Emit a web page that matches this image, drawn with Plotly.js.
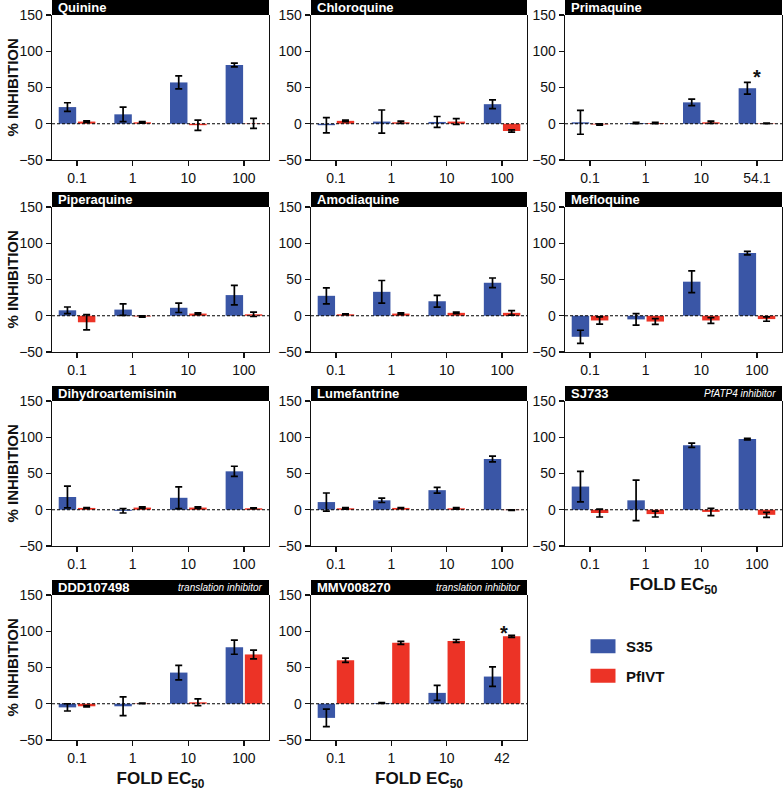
<!DOCTYPE html>
<html><head><meta charset="utf-8">
<script src="https://cdn.plot.ly/plotly-3.0.1.min.js"></script>
<style>html,body{margin:0;padding:0;background:#fff}</style>
</head><body><div id="chart" style="width:784px;height:792px"></div>
<script>
// ---------- data ----------
const doseLabels = ['0.1', '1', '10', '100'];
const primaquineDoses = ['0.1', '1', '10', '54.1'];
const mmvDoses = ['0.1', '1', '10', '42'];
const seriesNames = ['S35', 'PfIVT'];

const compoundNames = ['Quinine', 'Chloroquine', 'Primaquine', 'Piperaquine', 'Amodiaquine', 'Mefloquine',
  'Dihydroartemisinin', 'Lumefantrine', 'SJ733', 'DDD107498', 'MMV008270'];
const compoundNotes = ['', '', '', '', '', '', '', '', 'PfATP4 inhibitor', 'translation inhibitor', 'translation inhibitor'];

const quinineS35 = [23, 13, 57, 81];            const quinineS35Err = [6, 10, 9, 2.5];
const quininePfIVT = [3, 2, -2, 0.5];           const quininePfIVTErr = [1, 1, 7, 7];
const chloroquineS35 = [-2, 3, 2.5, 27];        const chloroquineS35Err = [10.5, 16, 7.5, 6];
const chloroquinePfIVT = [4, 2, 3, -10];        const chloroquinePfIVTErr = [1, 1.5, 4, 1.5];
const primaquineS35 = [2, 1, 29.5, 49];         const primaquineS35Err = [16.5, 1, 4.5, 8];
const primaquinePfIVT = [-1, 1, 2, 0.5];        const primaquinePfIVTErr = [1, 1, 1.5, 0.5];
const piperaquineS35 = [7.5, 8.5, 11, 28.5];    const piperaquineS35Err = [4.6, 8, 6.5, 13.4];
const piperaquinePfIVT = [-9, -1, 3, 2];        const piperaquinePfIVTErr = [10.6, 1, 1, 3];
const amodiaquineS35 = [27.5, 33, 20, 45.5];    const amodiaquineS35Err = [11, 15.6, 8, 6.6];
const amodiaquinePfIVT = [2, 3, 4, 4];          const amodiaquinePfIVTErr = [0.5, 1, 1, 3];
const mefloquineS35 = [-29, -5, 47, 86.4];      const mefloquineS35Err = [9, 8, 15, 2.5];
const mefloquinePfIVT = [-6.5, -8, -6.5, -4.6]; const mefloquinePfIVTErr = [5, 4, 4, 3];
const dhaS35 = [17.6, -1.5, 16.5, 53];          const dhaS35Err = [15, 3, 15, 7];
const dhaPfIVT = [2.5, 3, 3, 2];                const dhaPfIVTErr = [0.5, 1, 1, 0.5];
const lumefantrineS35 = [10.6, 13, 27, 70];     const lumefantrineS35Err = [12.5, 3, 4, 4];
const lumefantrinePfIVT = [2, 2.5, 2, -0.5];    const lumefantrinePfIVTErr = [1, 0.5, 1, 0.5];
const sj733S35 = [32, 13, 89, 97.5];            const sj733S35Err = [21, 28, 3, 1];
const sj733PfIVT = [-4.5, -6, -3, -7];          const sj733PfIVTErr = [5.5, 4, 5, 3.5];
const dddS35 = [-5, -3.5, 43, 78];              const dddS35Err = [5, 13, 10, 9.7];
const dddPfIVT = [-3.5, 0.5, 2, 68];            const dddPfIVTErr = [1, 0.5, 4.6, 6];
const mmvS35 = [-19.5, 1, 15, 37.5];            const mmvS35Err = [12, 0.5, 10.4, 13.4];
const mmvPfIVT = [60, 84, 86.6, 93];            const mmvPfIVTErr = [3, 2, 2, 1.4];

const yTickVals = [-50, 0, 50, 100, 150];

// ---------- assemble ----------
const panels = [
  [doseLabels, quinineS35, quinineS35Err, quininePfIVT, quininePfIVTErr],
  [doseLabels, chloroquineS35, chloroquineS35Err, chloroquinePfIVT, chloroquinePfIVTErr],
  [primaquineDoses, primaquineS35, primaquineS35Err, primaquinePfIVT, primaquinePfIVTErr],
  [doseLabels, piperaquineS35, piperaquineS35Err, piperaquinePfIVT, piperaquinePfIVTErr],
  [doseLabels, amodiaquineS35, amodiaquineS35Err, amodiaquinePfIVT, amodiaquinePfIVTErr],
  [doseLabels, mefloquineS35, mefloquineS35Err, mefloquinePfIVT, mefloquinePfIVTErr],
  [doseLabels, dhaS35, dhaS35Err, dhaPfIVT, dhaPfIVTErr],
  [doseLabels, lumefantrineS35, lumefantrineS35Err, lumefantrinePfIVT, lumefantrinePfIVTErr],
  [doseLabels, sj733S35, sj733S35Err, sj733PfIVT, sj733PfIVTErr],
  [doseLabels, dddS35, dddS35Err, dddPfIVT, dddPfIVTErr],
  [mmvDoses, mmvS35, mmvS35Err, mmvPfIVT, mmvPfIVTErr]
];

const W = 784, H = 792;
const colPx = [[52, 269], [311, 527], [565, 782]];
const rowPx = [[15, 160], [207, 352], [401, 546], [595, 740]];
const BLUE = '#3A56A6', RED = '#EC3326';
const FONT = 'Liberation Sans, Arial, Helvetica, sans-serif';
const INK = '#111';

const traces = [], shapes = [], annotations = [];
const layout = {
  width: W, height: H, margin: {l: 0, r: 0, t: 0, b: 0},
  paper_bgcolor: '#fff', plot_bgcolor: '#fff',
  barmode: 'group', bargap: 0.31, bargroupgap: 0.09,
  font: {family: FONT, color: INK},
  showlegend: true,
  legend: {x: 586 / W, y: 1 - 630 / H, xanchor: 'left', yanchor: 'top',
    font: {size: 15, weight: 'bold', color: INK, family: FONT},
    traceorder: 'grouped', tracegroupgap: 7, bgcolor: 'rgba(0,0,0,0)'}
};

panels.forEach((p, i) => {
  const n = i + 1, sfx = n === 1 ? '' : String(n);
  const row = Math.floor(i / 3), col = i % 3;
  const [doses, s35, s35Err, pf, pfErr] = p;
  const xa = 'x' + sfx, ya = 'y' + sfx;
  const errStyle = {type: 'data', visible: true, color: '#000', thickness: 1.7, width: 3.5};
  traces.push({type: 'bar', x: doses, y: s35, name: seriesNames[0], legendgroup: 's35',
    showlegend: i === 0, xaxis: xa, yaxis: ya, marker: {color: BLUE, line: {width: 0}},
    error_y: Object.assign({array: s35Err}, errStyle), hoverinfo: 'x+y'});
  traces.push({type: 'bar', x: doses, y: pf, name: seriesNames[1], legendgroup: 'pfivt',
    showlegend: i === 0, xaxis: xa, yaxis: ya, marker: {color: RED, line: {width: 0}},
    error_y: Object.assign({array: pfErr}, errStyle), hoverinfo: 'x+y'});

  const [c0, c1] = colPx[col], [r0, r1] = rowPx[row];
  layout['xaxis' + sfx] = {
    domain: [c0 / W, c1 / W], anchor: ya, type: 'category', range: [-0.45, 3.45],
    showline: true, linecolor: INK, linewidth: 1.3, ticks: 'outside', ticklen: 5, tickwidth: 1.3,
    tickcolor: INK, tickfont: {size: 14, color: INK, family: FONT}, showgrid: false, zeroline: false,
    fixedrange: true
  };
  layout['yaxis' + sfx] = {
    domain: [1 - r1 / H, 1 - r0 / H], anchor: xa, range: [-50, 150], tickvals: yTickVals,
    showline: true, mirror: true, linecolor: INK, linewidth: 1.3, ticks: 'outside', ticklen: 5,
    tickwidth: 1.3, tickcolor: INK, tickfont: {size: 14, color: INK, family: FONT},
    showgrid: false, zeroline: false, fixedrange: true
  };
  if (col === 0) {
    // y-axis title for the row
    annotations.push({xref: 'paper', yref: ya + ' domain', x: 12 / W, y: 0.5, xanchor: 'center',
      yanchor: 'middle', textangle: -90, showarrow: false, text: '% INHIBITION',
      font: {size: 15, weight: 'bold', color: INK, family: FONT}});
  }
  if (n >= 9) {
    layout['xaxis' + sfx].title = {text: 'FOLD EC<sub>50</sub>', font: {size: 17, weight: 'bold', color: INK, family: FONT}, standoff: 7};
  }
  // title bar
  shapes.push({type: 'rect', xref: xa + ' domain', yref: ya + ' domain', x0: 0, x1: 1,
    y0: 1, y1: 1 + 15 / 145, fillcolor: '#000', line: {width: 0}, layer: 'above'});
  // dashed zero reference line
  shapes.push({type: 'line', xref: xa + ' domain', yref: ya, x0: 0, x1: 1, y0: 0, y1: 0,
    line: {color: '#000', width: 1.1, dash: '3px,2px'}, layer: 'above'});
  annotations.push({xref: xa + ' domain', yref: ya + ' domain', x: 0, y: 1 + 7.5 / 145,
    xanchor: 'left', yanchor: 'middle', xshift: 4, showarrow: false, text: compoundNames[i],
    font: {size: 13, weight: 'bold', color: '#fff', family: FONT}});
  if (compoundNotes[i]) {
    annotations.push({xref: xa + ' domain', yref: ya + ' domain', x: 1, y: 1 + 7.5 / 145,
      xanchor: 'right', yanchor: 'middle', xshift: -4, showarrow: false, text: compoundNotes[i],
      font: {size: 10, style: 'italic', color: '#fff', family: FONT}});
  }
});

// significance markers (category index 3 = highest dose)
annotations.push({xref: 'x3', yref: 'y3', x: 3, y: 64, showarrow: false, text: '*',
  font: {size: 20, weight: 'bold', color: INK, family: FONT}});
annotations.push({xref: 'x11', yref: 'y11', x: 3, y: 98, xshift: 2, showarrow: false, text: '*',
  font: {size: 20, weight: 'bold', color: INK, family: FONT}});

layout.shapes = shapes;
layout.annotations = annotations;

function widenSwatches() {
  document.querySelectorAll('#chart .legend .legendpoints path').forEach(el => {
    el.setAttribute('d', 'M9.5,7H-15.5V-7H9.5Z');
  });
}
Plotly.newPlot('chart', traces, layout, {displayModeBar: false, staticPlot: true}).then(gd => {
  widenSwatches();
  gd.on('plotly_afterplot', widenSwatches);
  setTimeout(widenSwatches, 50);
  setTimeout(widenSwatches, 300);
});
</script>
</body></html>
